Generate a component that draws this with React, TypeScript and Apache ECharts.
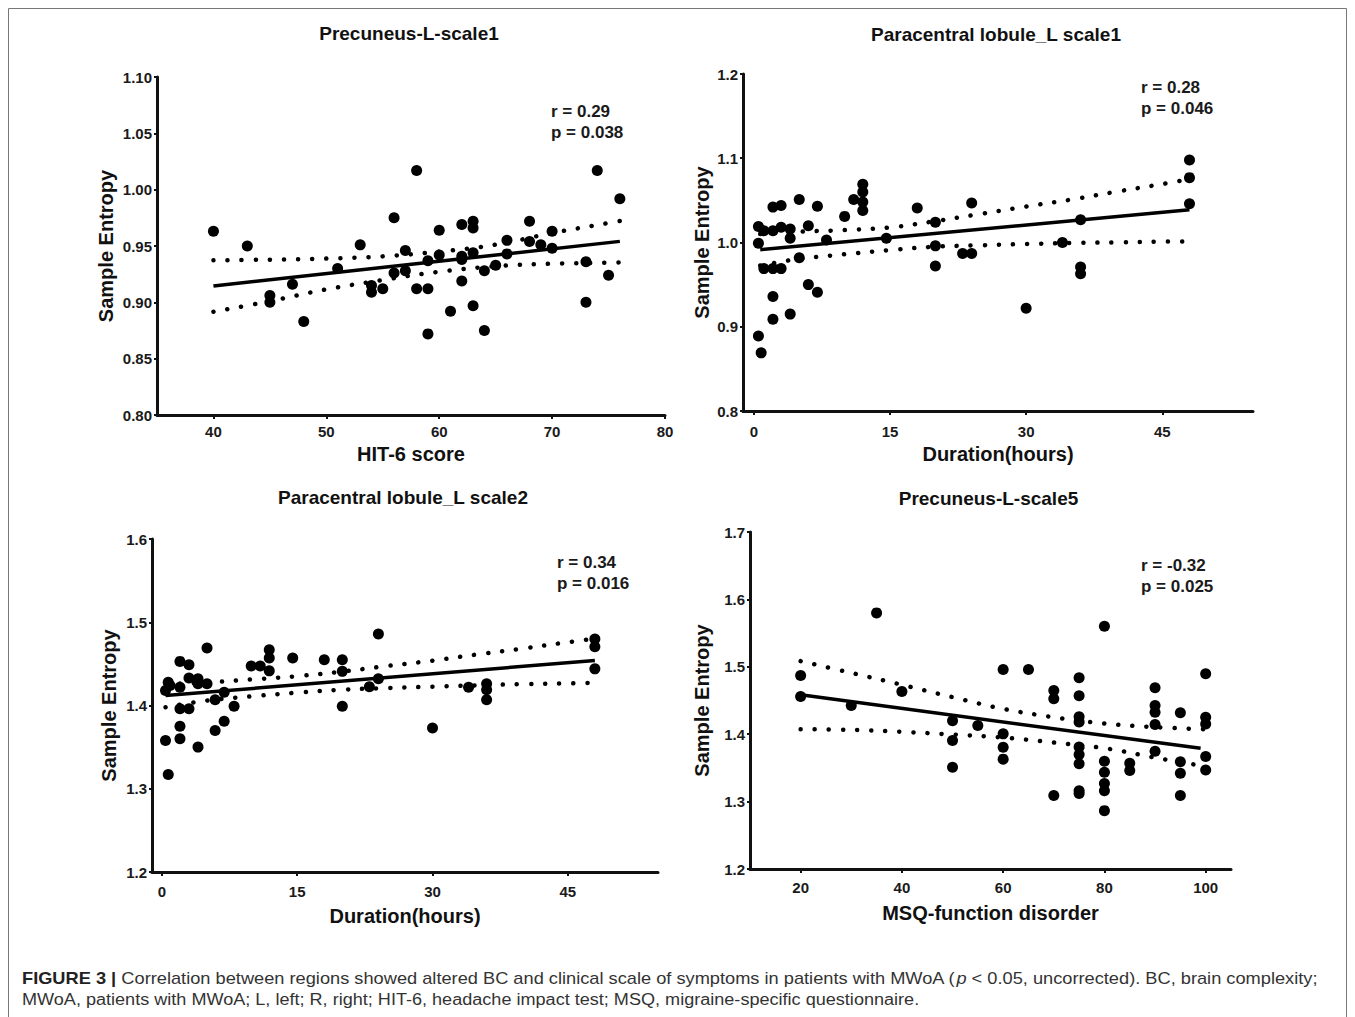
import React, { useEffect, useRef } from "react";
import * as echarts from "echarts";

// ---------- Panel 1: Precuneus-L-scale1 vs HIT-6 score ----------
const p1Points: number[][] = [
  [40, 0.963], [43, 0.95], [45, 0.906], [45, 0.9], [47, 0.916], [48, 0.883],
  [51, 0.93], [53, 0.951], [54, 0.915], [54, 0.909], [55, 0.912], [56, 0.975],
  [56, 0.926], [57, 0.946], [57, 0.928], [58, 1.017], [58, 0.912], [59, 0.937],
  [59, 0.912], [59, 0.872], [60, 0.964], [60, 0.942], [61, 0.892], [62, 0.969],
  [62, 0.941], [62, 0.938], [62, 0.919], [63, 0.972], [63, 0.966], [63, 0.944],
  [63, 0.897], [64, 0.928], [64, 0.875], [65, 0.933], [66, 0.955], [66, 0.943],
  [68, 0.972], [68, 0.954], [69, 0.951], [70, 0.963], [70, 0.948], [73, 0.936],
  [73, 0.9], [74, 1.017], [75, 0.924], [76, 0.992],
];
const p1Fit: number[][] = [[40, 0.9145], [76, 0.9541]];
const p1Upper: number[][] = [
  [40, 0.9373], [45, 0.9379], [50, 0.9388], [55, 0.9408], [60, 0.945],
  [65, 0.9512], [70, 0.9615], [75, 0.9704], [76, 0.9722],
];
const p1Lower: number[][] = [
  [40, 0.8917], [45, 0.901], [50, 0.9115], [55, 0.9198], [60, 0.9272],
  [65, 0.932], [70, 0.9343], [75, 0.9352], [76, 0.9355],
];
const p1XTicks = [40, 50, 60, 70, 80];

// ---------- Panel 2: Paracentral lobule_L scale1 vs Duration ----------
const p2Points: number[][] = [
  [0.5, 1.019], [0.5, 0.999], [0.5, 0.889], [0.8, 0.869], [1.1, 1.014], [1.1, 0.969],
  [2.1, 1.042], [2.1, 1.014], [2.1, 0.969], [2.1, 0.936], [2.1, 0.909], [3, 1.044],
  [3, 1.018], [3, 0.969], [4, 1.016], [4, 1.005], [4, 0.915], [5, 1.051],
  [5, 0.982], [6, 1.02], [6, 0.95], [7, 1.043], [7, 0.941], [8, 1.003],
  [10, 1.031], [11, 1.051], [12, 1.069], [12, 1.06], [12, 1.048], [12, 1.038],
  [14.6, 1.005], [18, 1.041], [20, 1.024], [20, 0.996], [20, 0.972], [23, 0.987],
  [24, 0.987], [24, 1.047], [30, 0.922], [34, 1.0], [36, 1.027], [36, 0.971],
  [36, 0.963], [48, 1.098], [48, 1.077], [48, 1.046],
];
const p2Fit: number[][] = [[0.7, 0.9915], [48, 1.0388]];
const p2Upper: number[][] = [
  [0.7, 1.01], [5, 1.0128], [10, 1.0147], [15, 1.0179], [20, 1.0254], [25, 1.034],
  [30, 1.0427], [35, 1.051], [40, 1.0604], [45, 1.0694], [48, 1.0753],
];
const p2Lower: number[][] = [
  [0.7, 0.9727], [5, 0.9805], [10, 0.986], [15, 0.991], [20, 0.995], [25, 0.9967],
  [30, 0.9982], [35, 0.9994], [40, 1.0002], [45, 1.001], [48, 1.0014],
];
const durationTicks = [0, 15, 30, 45];

// ---------- Panel 3: Paracentral lobule_L scale2 vs Duration ----------
const p3Points: number[][] = [
  [0.4, 1.418], [0.4, 1.358], [0.7, 1.317], [0.7, 1.428], [0.9, 1.424], [2, 1.453],
  [2, 1.422], [2, 1.396], [2, 1.375], [2, 1.36], [3, 1.449], [3, 1.433],
  [3, 1.396], [4, 1.432], [4, 1.426], [4, 1.35], [5, 1.469], [5, 1.426],
  [5.9, 1.407], [5.9, 1.37], [6.9, 1.416], [6.9, 1.381], [8, 1.399], [9.9, 1.4475],
  [10.9, 1.4475], [11.9, 1.467], [11.9, 1.457], [11.9, 1.4416], [14.5, 1.457], [18, 1.455],
  [20, 1.455], [20, 1.441], [20, 1.399], [23, 1.4226], [24, 1.486], [24, 1.432],
  [30, 1.373], [34, 1.4218], [36, 1.426], [36, 1.419], [36, 1.407], [48, 1.48],
  [48, 1.4705], [48, 1.444],
];
const p3Fit: number[][] = [[0.4, 1.412], [48, 1.454]];
const p3Upper: number[][] = [
  [0.4, 1.4257], [5, 1.4277], [10, 1.4313], [15, 1.4352], [20, 1.4408], [25, 1.4475],
  [30, 1.4539], [35, 1.4614], [40, 1.4685], [45, 1.476], [48, 1.4804],
];
const p3Lower: number[][] = [
  [0.4, 1.398], [5, 1.406], [10, 1.411], [15, 1.4154], [20, 1.419], [25, 1.421],
  [30, 1.4226], [35, 1.4242], [40, 1.4257], [45, 1.4265], [48, 1.4273],
];

// ---------- Panel 4: Precuneus-L-scale5 vs MSQ-function disorder ----------
const p4Points: number[][] = [
  [20, 1.487], [20, 1.456], [30, 1.4426], [35, 1.58], [40, 1.4634], [50, 1.42],
  [50, 1.3906], [50, 1.351], [55, 1.413], [60, 1.496], [60, 1.4005], [60, 1.3807],
  [60, 1.363], [65, 1.496], [70, 1.465], [70, 1.4525], [70, 1.309], [75, 1.4837],
  [75, 1.457], [75, 1.426], [75, 1.418], [75, 1.381], [75, 1.37], [75, 1.356],
  [75, 1.316], [75, 1.312], [80, 1.56], [80, 1.36], [80, 1.3436], [80, 1.327],
  [80, 1.316], [80, 1.2866], [85, 1.357], [85, 1.346], [90, 1.469], [90, 1.4426],
  [90, 1.4327], [90, 1.4144], [90, 1.3747], [95, 1.4317], [95, 1.359], [95, 1.342],
  [95, 1.309], [100, 1.4896], [100, 1.4252], [100, 1.4153], [100, 1.3668], [100, 1.347],
];
const p4Fit: number[][] = [[20, 1.4584], [99, 1.379]];
const p4Upper: number[][] = [
  [20, 1.5084], [30, 1.491], [40, 1.4733], [50, 1.455], [60, 1.4376],
  [70, 1.4252], [80, 1.4158], [90, 1.4104], [100, 1.4074],
];
const p4Lower: number[][] = [
  [20, 1.4074], [30, 1.4064], [40, 1.4035], [50, 1.3995], [60, 1.395],
  [70, 1.3876], [80, 1.3792], [90, 1.3653], [100, 1.352],
];
const msqTicks = [20, 40, 60, 80, 100];

// ---------- Texts ----------
const panelTitles = [
  "Precuneus-L-scale1",
  "Paracentral lobule_L scale1",
  "Paracentral lobule_L scale2",
  "Precuneus-L-scale5",
];
const xAxisNames = ["HIT-6 score", "Duration(hours)", "Duration(hours)", "MSQ-function disorder"];
const yAxisName = "Sample Entropy";
const rTexts = ["r = 0.29", "r = 0.28", "r = 0.34", "r = -0.32"];
const pTexts = ["p = 0.038", "p = 0.046", "p = 0.016", "p = 0.025"];
const captionLine1 =
  "{b|FIGURE 3 |} Correlation between regions showed altered BC and clinical scale of symptoms in patients with MWoA ({i|p} < 0.05, uncorrected). BC, brain complexity;";
const captionLine2 =
  "MWoA, patients with MWoA; L, left; R, right; HIT-6, headache impact test; MSQ, migraine-specific questionnaire.";

const FONT = "'Liberation Sans', Arial, Helvetica, sans-serif";
const INK = "#111";

type PanelCfg = {
  grid: { left: number; top: number; width: number; height: number };
  xMin: number; xMax: number; xTicks: number[];
  yMin: number; yMax: number; yInterval: number; yDigits: number;
  xNameGap: number; yNameGap: number; xLabelMargin: number;
  points: number[][]; fit: number[][]; upper: number[][]; lower: number[][];
  titleY: number; annX: number; annY: number;
};

const panels: PanelCfg[] = [
  {
    grid: { left: 157, top: 77, width: 508, height: 338 },
    xMin: 35, xMax: 80, xTicks: p1XTicks,
    yMin: 0.8, yMax: 1.1, yInterval: 0.05, yDigits: 2,
    xNameGap: 29, yNameGap: 41, xLabelMargin: 9,
    points: p1Points, fit: p1Fit, upper: p1Upper, lower: p1Lower,
    titleY: 33, annX: 551, annY: 111,
  },
  {
    grid: { left: 743, top: 74, width: 510, height: 337 },
    xMin: -1.2, xMax: 55, xTicks: durationTicks,
    yMin: 0.8, yMax: 1.2, yInterval: 0.1, yDigits: 1,
    xNameGap: 33, yNameGap: 31, xLabelMargin: 13,
    points: p2Points, fit: p2Fit, upper: p2Upper, lower: p2Lower,
    titleY: 34, annX: 1141, annY: 87,
  },
  {
    grid: { left: 152, top: 539, width: 506, height: 333 },
    xMin: -1.1, xMax: 55, xTicks: durationTicks,
    yMin: 1.2, yMax: 1.6, yInterval: 0.1, yDigits: 1,
    xNameGap: 34, yNameGap: 33, xLabelMargin: 12,
    points: p3Points, fit: p3Fit, upper: p3Upper, lower: p3Lower,
    titleY: 497, annX: 557, annY: 562,
  },
  {
    grid: { left: 750, top: 532, width: 481, height: 337 },
    xMin: 10, xMax: 105, xTicks: msqTicks,
    yMin: 1.2, yMax: 1.7, yInterval: 0.1, yDigits: 1,
    xNameGap: 34, yNameGap: 38, xLabelMargin: 11,
    points: p4Points, fit: p4Fit, upper: p4Upper, lower: p4Lower,
    titleY: 498, annX: 1141, annY: 565,
  },
];

function buildOption() {
  const grids: any[] = [];
  const xAxes: any[] = [];
  const yAxes: any[] = [];
  const series: any[] = [];
  const graphics: any[] = [];

  panels.forEach((p, i) => {
    grids.push({ ...p.grid, containLabel: false });
    xAxes.push({
      type: "value",
      gridIndex: i,
      min: p.xMin,
      max: p.xMax,
      name: xAxisNames[i],
      nameLocation: "middle",
      nameGap: p.xNameGap,
      nameTextStyle: { fontFamily: FONT, fontWeight: "bold", fontSize: 20, color: INK },
      axisLine: { show: true, onZero: false, lineStyle: { color: INK, width: 3 } },
      axisTick: { show: true, customValues: p.xTicks, length: 4, lineStyle: { color: INK, width: 2 } },
      axisLabel: {
        customValues: p.xTicks,
        margin: p.xLabelMargin,
        fontFamily: FONT, fontWeight: "bold", fontSize: 15, color: "#1a1a1a",
      },
      splitLine: { show: false },
    });
    yAxes.push({
      type: "value",
      gridIndex: i,
      min: p.yMin,
      max: p.yMax,
      interval: p.yInterval,
      name: yAxisName,
      nameLocation: "middle",
      nameGap: p.yNameGap,
      nameRotate: 90,
      nameTextStyle: { fontFamily: FONT, fontWeight: "bold", fontSize: 20, color: INK },
      axisLine: { show: true, onZero: false, lineStyle: { color: INK, width: 3 } },
      axisTick: { show: true, length: 3, lineStyle: { color: INK, width: 2 } },
      axisLabel: {
        margin: 5,
        fontFamily: FONT, fontWeight: "bold", fontSize: 15, color: "#1a1a1a",
        formatter: (v: number) => v.toFixed(p.yDigits),
      },
      splitLine: { show: false },
    });
    const dotted = {
      type: "line",
      xAxisIndex: i,
      yAxisIndex: i,
      smooth: 0.4,
      showSymbol: false,
      symbol: "none",
      silent: true,
      lineStyle: { color: "#000", width: 4.5, type: [0.1, 14], cap: "round" },
      z: 3,
    };
    series.push({ ...dotted, data: p.upper });
    series.push({ ...dotted, data: p.lower });
    series.push({
      type: "line",
      xAxisIndex: i,
      yAxisIndex: i,
      showSymbol: false,
      symbol: "none",
      silent: true,
      data: p.fit,
      lineStyle: { color: "#000", width: 3.5 },
      z: 4,
    });
    series.push({
      type: "scatter",
      xAxisIndex: i,
      yAxisIndex: i,
      symbol: "circle",
      symbolSize: 11,
      itemStyle: { color: "#000", opacity: 1 },
      data: p.points,
      z: 5,
    });
    const gx = p.grid.left + p.grid.width / 2;
    graphics.push({
      type: "text",
      x: gx - 2,
      y: p.titleY,
      style: {
        text: panelTitles[i],
        fontFamily: FONT, fontWeight: "bold", fontSize: 19, fill: INK,
        textAlign: "center", textVerticalAlign: "middle",
      },
    });
    graphics.push({
      type: "text",
      x: p.annX,
      y: p.annY,
      style: {
        text: rTexts[i],
        fontFamily: FONT, fontWeight: "bold", fontSize: 17, fill: "#1a1a1a",
        textAlign: "left", textVerticalAlign: "middle",
      },
    });
    graphics.push({
      type: "text",
      x: p.annX,
      y: p.annY + 21,
      style: {
        text: pTexts[i],
        fontFamily: FONT, fontWeight: "bold", fontSize: 17, fill: "#1a1a1a",
        textAlign: "left", textVerticalAlign: "middle",
      },
    });
  });

  // frame
  graphics.push({
    type: "rect",
    shape: { x: 8.5, y: 8.5, width: 1338, height: 1040 },
    style: { fill: "none", stroke: "#777", lineWidth: 1 },
    silent: true,
  });
  // caption
  graphics.push({
    type: "text",
    x: 22,
    y: 978,
    scaleX: 1.14,
    style: {
      text: captionLine1,
      fontFamily: FONT, fontSize: 16, fill: "#333",
      textVerticalAlign: "middle",
      rich: {
        b: { fontFamily: FONT, fontSize: 16, fontWeight: "bold", fill: "#222" },
        i: { fontFamily: FONT, fontSize: 16, fontStyle: "italic", fill: "#333" },
      },
    },
  });
  graphics.push({
    type: "text",
    x: 22,
    y: 1000,
    scaleX: 1.13,
    style: {
      text: captionLine2,
      fontFamily: FONT, fontSize: 16, fill: "#333",
      textVerticalAlign: "middle",
    },
  });

  return {
    animation: false,
    backgroundColor: "#fff",
    grid: grids,
    xAxis: xAxes,
    yAxis: yAxes,
    series,
    graphic: graphics,
  };
}

export default function App() {
  const ref = useRef<HTMLDivElement>(null);
  useEffect(() => {
    if (!ref.current) return;
    const chart = echarts.init(ref.current, undefined, { renderer: "svg" });
    chart.setOption(buildOption() as any);
    return () => chart.dispose();
  }, []);
  return (
    <div
      ref={ref}
      style={{ position: "fixed", left: 0, top: 0, width: 1355, height: 1017, background: "#fff" }}
    />
  );
}
